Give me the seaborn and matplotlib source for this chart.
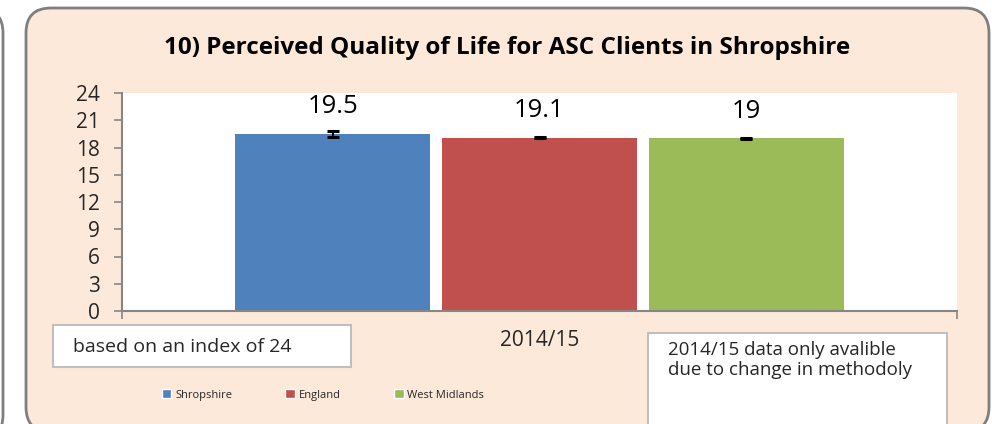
import numpy as np
import pandas as pd
import matplotlib
matplotlib.use("Agg")
import matplotlib.pyplot as plt
from matplotlib.patches import FancyBboxPatch, Rectangle
import seaborn as sns

# chart data
regions = ["Shropshire", "England", "West Midlands"]
years = ["2014/15"]
scores = [19.5, 19.1, 19.0]
score_err = [0.3, 0.05, 0.05]
score_labels = ["19.5", "19.1", "19"]
colors = ["#4F81BD", "#C0504D", "#9BBB59"]

title = "10) Perceived Quality of Life for ASC Clients in Shropshire"
note_left = "based on an index of 24"
note_right = "2014/15 data only avalible\ndue to change in methodoly"

df = pd.DataFrame({"year": years * len(regions), "region": regions, "score": scores})

sns.set_theme(style="white")
plt.rcParams["font.family"] = ["Open Sans", "DejaVu Sans"]

W, H = 992, 424
fig = plt.figure(figsize=(W / 100, H / 100), dpi=100)
fig.patch.set_facecolor("white")
tr = fig.dpi_scale_trans


def box(x0, y0, x1, y1):
    # pixel coords from top-left -> inches
    return (x0 / 100, (H - y1) / 100), (x1 - x0) / 100, (y1 - y0) / 100


# neighbouring panel edge and main rounded panel
for (x0, y0, x1, y1), fc in [((-300, 8, 3, 440), "white"), ((26, 8, 989, 432), "#FDE9D9")]:
    xy, w, h = box(x0, y0, x1, y1)
    fig.add_artist(FancyBboxPatch(xy, w, h, boxstyle="round,pad=0,rounding_size=0.25",
                                  fc=fc, ec="#7F7F7F", lw=2, transform=tr, zorder=-2))

ax = fig.add_axes([122 / W, (H - 311) / H, (957 - 122) / W, (311 - 93) / H])
ax.set_facecolor("white")

sns.barplot(data=df, x="year", y="score", hue="region", hue_order=regions,
            palette=dict(zip(regions, colors)), errorbar=None, width=0.742, gap=0.056,
            legend=False, ax=ax, saturation=1, linewidth=0)

for cont, val, err, lab in zip(ax.containers, scores, score_err, score_labels):
    p = cont.patches[0]
    xc = p.get_x() + p.get_width() / 2
    ax.errorbar(xc, val, yerr=err, fmt="none", ecolor="black", elinewidth=1.5,
                capsize=4.5, capthick=2.2)
    ax.annotate(lab, (xc, val), xytext=(0, 19.5), textcoords="offset points",
                ha="center", va="center", fontsize=18.5, color="black")

ax.set_ylim(0, 24)
ax.set_yticks(np.arange(0, 25, 3))
ax.set_xlim(-0.5, 0.5)
ax.set_xlabel("")
ax.set_ylabel("")
ax.set_xticks([-0.5, 0.5], minor=True)
for s in ["top", "right"]:
    ax.spines[s].set_visible(False)
for s in ["left", "bottom"]:
    ax.spines[s].set_color("#868686")
    ax.spines[s].set_linewidth(1.5)
ax.tick_params(axis="y", which="major", direction="out", length=6, width=1.2,
               color="#868686", labelsize=15, pad=10, left=True)
ax.tick_params(axis="x", which="major", length=0, labelsize=15, pad=14)
ax.tick_params(axis="x", which="minor", direction="out", length=6, width=1.2,
               color="#868686", bottom=True)

fig.text(507 / W, (H - 48) / H, title, ha="center", va="center",
         fontsize=17.5, fontweight="bold", color="black")

# annotation boxes
for (x0, y0, x1, y1) in [(53, 325, 351, 367), (648, 333, 947, 440)]:
    xy, w, h = box(x0, y0, x1, y1)
    fig.add_artist(Rectangle(xy, w, h, fc="white", ec="#BFBFBF", lw=1.5,
                             transform=tr, zorder=3))
fig.text(73 / W, (H - 347) / H, note_left, ha="left", va="center", fontsize=14, zorder=4)
fig.text(668 / W, (H - 360) / H, note_right, ha="left", va="center", fontsize=13.5,
         linespacing=1.15, zorder=4)

handles = [Rectangle((0, 0), 1, 1, fc=c) for c in colors]
fig.legend(handles, regions, loc="center", bbox_to_anchor=(323 / W, (H - 395) / H),
           ncol=3, frameon=False, fontsize=8, handlelength=0.85, handleheight=0.85,
           handletextpad=0.35, columnspacing=4.8)

fig.savefig("out.png", dpi=100, facecolor=fig.get_facecolor())
